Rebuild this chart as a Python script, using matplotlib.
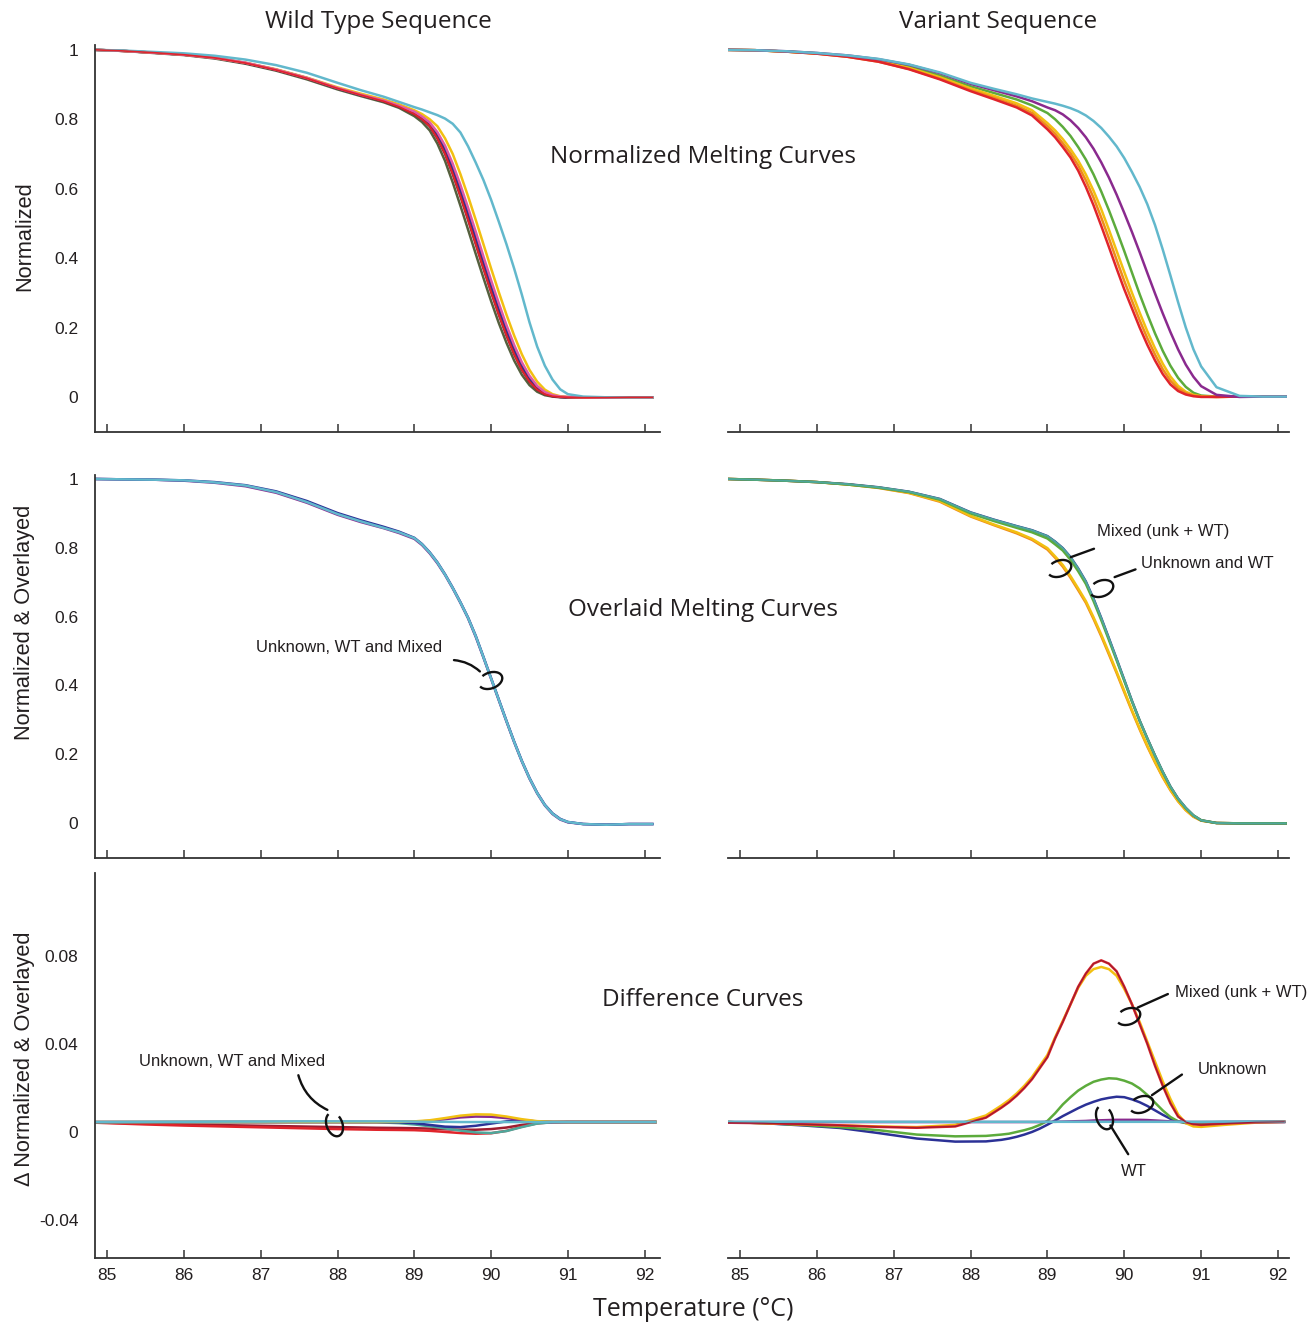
import matplotlib
matplotlib.use("Agg")
import matplotlib.pyplot as plt
from matplotlib.path import Path
from matplotlib.transforms import Affine2D

# temperature grid of the melting curves (deg C)
temp_melt = [84.85, 85.2, 85.6, 86.0, 86.4, 86.8, 87.2, 87.6, 88.0, 88.3, 88.6, 88.8,
             89.0, 89.1, 89.2, 89.3, 89.4, 89.5, 89.6, 89.7, 89.8, 89.9,
             90.0, 90.1, 90.2, 90.3, 90.4, 90.5, 90.6, 90.7, 90.8, 90.9, 91.0,
             91.2, 91.5, 91.8, 92.1]

# --- wild type, normalized
wt_olive = [1.000, 0.997, 0.991, 0.985, 0.975, 0.960, 0.940, 0.915, 0.886, 0.867, 0.849, 0.833,
            0.809, 0.792, 0.768, 0.730, 0.680, 0.618, 0.551, 0.482, 0.412, 0.343,
            0.276, 0.213, 0.156, 0.105, 0.064, 0.034, 0.015, 0.005, 0.001, -0.001, -0.002,
            -0.002, -0.002, -0.001, -0.001]
wt_red = [1.000, 0.997, 0.992, 0.986, 0.977, 0.962, 0.942, 0.918, 0.889, 0.870, 0.852, 0.836,
          0.815, 0.800, 0.780, 0.745, 0.700, 0.642, 0.578, 0.510, 0.440, 0.370,
          0.302, 0.237, 0.177, 0.123, 0.078, 0.044, 0.021, 0.008, 0.002, 0.000, -0.001,
          -0.002, -0.002, -0.001, -0.001]
wt_navy = [1.000, 0.997, 0.992, 0.986, 0.977, 0.962, 0.943, 0.919, 0.889, 0.870, 0.853, 0.837,
           0.818, 0.804, 0.786, 0.755, 0.713, 0.658, 0.595, 0.528, 0.458, 0.388,
           0.319, 0.253, 0.192, 0.136, 0.089, 0.052, 0.026, 0.011, 0.003, 0.000, -0.001,
           -0.002, -0.002, -0.001, -0.001]
wt_magenta = [1.000, 0.997, 0.992, 0.986, 0.977, 0.963, 0.943, 0.919, 0.890, 0.871, 0.854, 0.839,
              0.822, 0.808, 0.791, 0.763, 0.724, 0.672, 0.611, 0.545, 0.476, 0.405,
              0.336, 0.270, 0.207, 0.150, 0.100, 0.061, 0.032, 0.014, 0.005, 0.001, 0.000,
              -0.001, -0.002, -0.001, -0.001]
wt_yellow = [1.000, 0.997, 0.992, 0.986, 0.977, 0.963, 0.944, 0.920, 0.892, 0.874, 0.857, 0.843,
             0.826, 0.815, 0.800, 0.780, 0.745, 0.700, 0.642, 0.578, 0.510, 0.440,
             0.370, 0.302, 0.237, 0.177, 0.123, 0.078, 0.044, 0.021, 0.008, 0.002, 0.000,
             -0.001, -0.002, -0.001, -0.001]
wt_cyan = [1.000, 0.998, 0.994, 0.990, 0.983, 0.972, 0.956, 0.934, 0.905, 0.884, 0.865, 0.850,
           0.835, 0.828, 0.820, 0.812, 0.802, 0.787, 0.762, 0.722, 0.675, 0.625,
           0.568, 0.505, 0.440, 0.370, 0.295, 0.215, 0.145, 0.090, 0.050, 0.022, 0.008,
           0.001, -0.001, -0.001, -0.001]

# --- variant, normalized
var_red = [1.000, 0.999, 0.995, 0.989, 0.980, 0.966, 0.944, 0.915, 0.881, 0.858, 0.834, 0.811,
           0.771, 0.748, 0.720, 0.690, 0.652, 0.605, 0.552, 0.493, 0.432, 0.370,
           0.310, 0.255, 0.200, 0.150, 0.105, 0.066, 0.036, 0.017, 0.007, 0.002, 0.000,
           0.000, 0.001, 0.001, 0.001]
var_orange = [1.000, 0.999, 0.995, 0.989, 0.980, 0.966, 0.945, 0.917, 0.884, 0.862, 0.839, 0.818,
              0.780, 0.758, 0.731, 0.702, 0.667, 0.624, 0.574, 0.517, 0.457, 0.395,
              0.334, 0.277, 0.221, 0.169, 0.122, 0.080, 0.047, 0.024, 0.011, 0.004, 0.001,
              0.000, 0.001, 0.001, 0.001]
var_yellow = [1.000, 0.999, 0.995, 0.990, 0.981, 0.968, 0.948, 0.921, 0.889, 0.868, 0.846, 0.826,
              0.789, 0.768, 0.743, 0.714, 0.681, 0.641, 0.594, 0.541, 0.482, 0.421,
              0.360, 0.300, 0.243, 0.189, 0.140, 0.096, 0.059, 0.032, 0.015, 0.006, 0.002,
              0.000, 0.001, 0.001, 0.001]
var_green = [1.000, 0.999, 0.995, 0.990, 0.982, 0.970, 0.952, 0.926, 0.895, 0.876, 0.857, 0.840,
             0.818, 0.800, 0.778, 0.752, 0.720, 0.684, 0.641, 0.592, 0.538, 0.480,
             0.420, 0.358, 0.296, 0.238, 0.183, 0.133, 0.090, 0.055, 0.029, 0.012, 0.004,
             0.001, 0.001, 0.001, 0.001]
var_purple = [1.000, 0.999, 0.996, 0.991, 0.984, 0.973, 0.957, 0.933, 0.902, 0.884, 0.866, 0.852,
              0.834, 0.826, 0.814, 0.797, 0.775, 0.748, 0.715, 0.676, 0.632, 0.583,
              0.530, 0.475, 0.417, 0.357, 0.298, 0.241, 0.187, 0.137, 0.093, 0.058, 0.031,
              0.006, 0.000, 0.001, 0.001]
var_cyan = [1.000, 0.999, 0.996, 0.991, 0.984, 0.974, 0.958, 0.935, 0.905, 0.888, 0.872, 0.860,
            0.850, 0.845, 0.839, 0.832, 0.823, 0.811, 0.795, 0.775, 0.750, 0.722,
            0.688, 0.648, 0.605, 0.555, 0.495, 0.425, 0.350, 0.273, 0.200, 0.137, 0.088,
            0.028, 0.003, 0.001, 0.001]

# --- overlaid, wild type
ovl_wt_purple = [1.000, 0.999, 0.998, 0.995, 0.989, 0.979, 0.960, 0.931, 0.896, 0.875, 0.857, 0.843,
                 0.826, 0.808, 0.784, 0.755, 0.721, 0.682, 0.640, 0.595, 0.541, 0.481,
                 0.419, 0.357, 0.295, 0.235, 0.179, 0.129, 0.086, 0.051, 0.026, 0.010, 0.002,
                 -0.003, -0.005, -0.003, -0.003]
ovl_wt_navy = [1.000, 0.999, 0.998, 0.996, 0.991, 0.982, 0.964, 0.936, 0.901, 0.880, 0.861, 0.847,
               0.829, 0.811, 0.787, 0.758, 0.723, 0.684, 0.642, 0.597, 0.544, 0.483,
               0.421, 0.359, 0.297, 0.237, 0.181, 0.131, 0.088, 0.053, 0.028, 0.012, 0.003,
               -0.003, -0.005, -0.003, -0.003]
ovl_wt_cyan = [1.000, 0.999, 0.998, 0.996, 0.990, 0.981, 0.962, 0.933, 0.898, 0.877, 0.858, 0.845,
               0.828, 0.810, 0.786, 0.757, 0.722, 0.683, 0.641, 0.596, 0.543, 0.482,
               0.420, 0.358, 0.296, 0.236, 0.180, 0.130, 0.087, 0.052, 0.027, 0.011, 0.003,
               -0.003, -0.005, -0.003, -0.003]

# --- overlaid, variant
ovl_var_orange = [1.000, 0.998, 0.995, 0.991, 0.984, 0.974, 0.959, 0.934, 0.891, 0.866, 0.842, 0.823,
                  0.795, 0.771, 0.745, 0.713, 0.677, 0.640, 0.593, 0.543, 0.490, 0.436,
                  0.380, 0.325, 0.272, 0.222, 0.176, 0.133, 0.095, 0.063, 0.037, 0.018, 0.007,
                  0.000, -0.001, -0.001, -0.001]
ovl_var_yellow = [1.000, 0.998, 0.995, 0.991, 0.984, 0.975, 0.960, 0.936, 0.893, 0.868, 0.845, 0.826,
                  0.799, 0.775, 0.750, 0.718, 0.682, 0.645, 0.598, 0.548, 0.495, 0.440,
                  0.384, 0.328, 0.275, 0.225, 0.178, 0.135, 0.097, 0.064, 0.038, 0.019, 0.007,
                  0.000, -0.001, -0.001, -0.001]
ovl_var_green = [1.000, 0.998, 0.995, 0.991, 0.984, 0.975, 0.962, 0.940, 0.900, 0.878, 0.858, 0.845,
                 0.827, 0.810, 0.792, 0.765, 0.732, 0.695, 0.645, 0.590, 0.532, 0.473,
                 0.413, 0.353, 0.297, 0.245, 0.195, 0.148, 0.105, 0.070, 0.043, 0.022, 0.008,
                 0.000, -0.001, -0.001, -0.001]
ovl_var_teal = [1.000, 0.998, 0.995, 0.991, 0.985, 0.976, 0.963, 0.942, 0.903, 0.882, 0.863, 0.851,
                0.834, 0.818, 0.799, 0.773, 0.740, 0.702, 0.652, 0.596, 0.537, 0.477,
                0.416, 0.355, 0.298, 0.246, 0.196, 0.149, 0.106, 0.071, 0.044, 0.022, 0.008,
                0.000, -0.001, -0.001, -0.001]

# --- difference curves, wild type
temp_diff_wt = [84.84, 85.5, 86.0, 86.5, 87.0, 87.5, 88.0, 88.5, 88.8, 89.0, 89.2,
                89.4, 89.6, 89.8, 90.0, 90.2, 90.4, 90.6, 90.8, 91.0, 91.5, 92.14]
dwt_cyan = [0.0045, 0.0046, 0.0046, 0.0047, 0.0047, 0.0048, 0.0048, 0.0048, 0.0048, 0.0047, 0.0046,
            0.0046, 0.0045, 0.0045, 0.0045, 0.0045, 0.0045, 0.0045, 0.0045, 0.0045, 0.0045, 0.0045]
dwt_teal = [0.0044, 0.0044, 0.0045, 0.0045, 0.0045, 0.0045, 0.0045, 0.0044, 0.0040, 0.0034, 0.0026,
            0.0016, 0.0006, -0.0002, -0.0005, 0.0004, 0.0022, 0.0038, 0.0044, 0.0045, 0.0045, 0.0045]
dwt_red = [0.0042, 0.0034, 0.0029, 0.0025, 0.0021, 0.0017, 0.0013, 0.0010, 0.0009, 0.0008, 0.0005,
           0.0000, -0.0005, -0.0008, -0.0006, 0.0005, 0.0024, 0.0039, 0.0044, 0.0045, 0.0045, 0.0045]
dwt_darkred = [0.0043, 0.0038, 0.0034, 0.0031, 0.0028, 0.0025, 0.0022, 0.0019, 0.0018, 0.0017, 0.0015,
               0.0012, 0.0010, 0.0010, 0.0013, 0.0020, 0.0032, 0.0041, 0.0044, 0.0045, 0.0045, 0.0045]
dwt_yellow = [0.0045, 0.0045, 0.0045, 0.0045, 0.0045, 0.0045, 0.0045, 0.0045, 0.0046, 0.0048, 0.0053,
              0.0063, 0.0074, 0.0080, 0.0079, 0.0070, 0.0058, 0.0049, 0.0046, 0.0045, 0.0045, 0.0045]
dwt_purple = [0.0045, 0.0045, 0.0045, 0.0045, 0.0045, 0.0045, 0.0045, 0.0045, 0.0046, 0.0047, 0.0050,
              0.0058, 0.0066, 0.0070, 0.0069, 0.0063, 0.0054, 0.0047, 0.0045, 0.0045, 0.0045, 0.0045]
dwt_navy = [0.0045, 0.0045, 0.0045, 0.0045, 0.0045, 0.0045, 0.0045, 0.0045, 0.0044, 0.0040, 0.0032,
            0.0024, 0.0022, 0.0028, 0.0038, 0.0048, 0.0052, 0.0048, 0.0046, 0.0045, 0.0045, 0.0045]

# --- difference curves, variant
temp_diff_var = [84.84, 85.3, 85.8, 86.3, 86.8, 87.3, 87.8, 88.2,
                 88.4, 88.5, 88.6, 88.7, 88.8, 88.9, 89.0, 89.1, 89.2, 89.3, 89.4, 89.5,
                 89.6, 89.7, 89.8, 89.9, 90.0, 90.1, 90.2, 90.3, 90.4, 90.5, 90.6, 90.7,
                 90.8, 90.9, 91.0, 91.3, 91.7, 92.08]
dvar_red = [0.0042, 0.0040, 0.0035, 0.0030, 0.0023, 0.0019, 0.0025, 0.0065,
            0.0110, 0.0135, 0.0165, 0.0200, 0.0240, 0.0290, 0.0340, 0.0425, 0.0500, 0.0580, 0.0660, 0.0720,
            0.0765, 0.0780, 0.0765, 0.0730, 0.0660, 0.0580, 0.0490, 0.0400, 0.0300, 0.0210, 0.0130, 0.0070,
            0.0045, 0.0035, 0.0032, 0.0038, 0.0044, 0.0046]
dvar_yellow = [0.0045, 0.0040, 0.0035, 0.0030, 0.0025, 0.0022, 0.0032, 0.0075,
               0.0120, 0.0145, 0.0175, 0.0210, 0.0250, 0.0300, 0.0350, 0.0430, 0.0505, 0.0580, 0.0655, 0.0710,
               0.0740, 0.0750, 0.0740, 0.0710, 0.0650, 0.0580, 0.0500, 0.0410, 0.0320, 0.0230, 0.0150, 0.0080,
               0.0040, 0.0025, 0.0023, 0.0032, 0.0042, 0.0046]
dvar_green = [0.0045, 0.0040, 0.0032, 0.0022, 0.0008, -0.0012, -0.0020, -0.0018,
              -0.0012, -0.0008, 0.0000, 0.0008, 0.0018, 0.0032, 0.0050, 0.0085, 0.0125, 0.0158, 0.0188, 0.0210,
              0.0228, 0.0238, 0.0244, 0.0242, 0.0233, 0.0220, 0.0198, 0.0168, 0.0133, 0.0098, 0.0068, 0.0048,
              0.0040, 0.0038, 0.0040, 0.0043, 0.0045, 0.0046]
dvar_navy = [0.0045, 0.0040, 0.0030, 0.0018, -0.0005, -0.0030, -0.0044, -0.0043,
             -0.0036, -0.0030, -0.0022, -0.0012, 0.0000, 0.0015, 0.0033, 0.0052, 0.0072, 0.0090, 0.0108, 0.0124,
             0.0137, 0.0148, 0.0155, 0.0160, 0.0158, 0.0148, 0.0135, 0.0118, 0.0098, 0.0078, 0.0060, 0.0048,
             0.0043, 0.0042, 0.0043, 0.0045, 0.0046, 0.0046]
dvar_purple = [0.0045, 0.0045, 0.0045, 0.0045, 0.0045, 0.0045, 0.0045, 0.0045,
               0.0045, 0.0045, 0.0045, 0.0045, 0.0045, 0.0045, 0.0046, 0.0046, 0.0047, 0.0048, 0.0049, 0.0050,
               0.0052, 0.0053, 0.0054, 0.0055, 0.0055, 0.0055, 0.0055, 0.0054, 0.0052, 0.0050, 0.0048, 0.0046,
               0.0045, 0.0045, 0.0045, 0.0045, 0.0045, 0.0045]
dvar_cyan = [0.0046, 0.0046, 0.0047, 0.0047, 0.0046, 0.0046, 0.0046, 0.0046,
             0.0046, 0.0046, 0.0046, 0.0046, 0.0046, 0.0046, 0.0046, 0.0046, 0.0046, 0.0046, 0.0046, 0.0046,
             0.0046, 0.0046, 0.0046, 0.0046, 0.0046, 0.0046, 0.0046, 0.0046, 0.0046, 0.0046, 0.0046, 0.0046,
             0.0046, 0.0046, 0.0046, 0.0047, 0.0047, 0.0046]

x_ticks = [85, 86, 87, 88, 89, 90, 91, 92]
melt_ticks = [0, 0.2, 0.4, 0.6, 0.8, 1]
melt_labels = ["0", "0.2", "0.4", "0.6", "0.8", "1"]
diff_ticks = [-0.04, 0, 0.04, 0.08]
diff_labels = ["-0.04", "0", "0.04", "0.08"]

RED, DARKRED, ORANGE, YELLOW = "#e0242b", "#9c1c30", "#ef8a1c", "#f2c011"
GREEN, OLIVE, TEAL = "#5cab3c", "#55603e", "#4ea79b"
NAVY, PURPLE, MAGENTA, CYAN = "#2b3196", "#8a2a8e", "#e05aa5", "#62b8cc"
INK = "#231f20"
SANS = ["Liberation Sans", "DejaVu Sans"]
TITLE = ["Open Sans", "DejaVu Sans"]
plt.rcParams["font.family"] = SANS

W, H = 1313, 1330
fig = plt.figure(figsize=(W / 100, H / 100), dpi=100)


def box(x0, y0, x1, y1):
    return [x0 / W, 1 - y1 / H, (x1 - x0) / W, (y1 - y0) / H]


def style(ax, left_col, bottom_row, ylim, yticks=None, ylabels=None):
    ax.set_xlim((84.84, 92.2) if left_col else (84.844, 92.143))
    ax.set_ylim(ylim)
    ax.patch.set_alpha(0)
    for s in ("top", "right"):
        ax.spines[s].set_visible(False)
    ax.spines["left"].set_visible(left_col)
    for s in ("left", "bottom"):
        ax.spines[s].set_color("#333333")
        ax.spines[s].set_linewidth(1.3)
    ax.set_xticks(x_ticks)
    ax.tick_params(axis="x", direction="in", length=6, width=1.1, color="#333333",
                   labelbottom=bottom_row, pad=7, labelsize=12.5, labelcolor=INK)
    if left_col:
        ax.set_yticks(yticks, ylabels)
        ax.tick_params(axis="y", length=0, pad=12, labelsize=12.5, labelcolor=INK)
    else:
        ax.set_yticks([])


def curl_marker(angle):
    arc = Path.arc(15, 300)
    return Affine2D().scale(1.0, 0.65).rotate_deg(angle).transform_path(arc)


def callout(ax, text, text_xy, start, end, curl, ha="left", rad=0.0, angle=0):
    ax.text(*text_xy, text, ha=ha, va="center", fontsize=12, color=INK, family=SANS)
    ax.annotate("", xy=end, xytext=start,
                arrowprops=dict(arrowstyle="-", color="#111111", lw=1.7,
                                connectionstyle=f"arc3,rad={rad}"))
    ax.plot(*curl, marker=curl_marker(angle), ms=17, mfc="none", mec="#111111",
            mew=1.7, clip_on=False)


lw = 1.8

# normalized melting curves
ax = fig.add_axes(box(95, 45, 660, 432))
style(ax, True, False, (-0.101, 1.014), melt_ticks, melt_labels)
for vals, c in [(wt_olive, OLIVE), (wt_navy, NAVY), (wt_red, DARKRED), (wt_yellow, YELLOW),
                (wt_magenta, MAGENTA), (wt_cyan, CYAN)]:
    ax.plot(temp_melt, vals, color=c, lw=lw)
ax.plot(temp_melt, wt_red, color=RED, lw=1.2)

ax = fig.add_axes(box(728, 45, 1289, 432))
style(ax, False, False, (-0.101, 1.014))
for vals, c in [(var_green, GREEN), (var_yellow, YELLOW), (var_orange, ORANGE), (var_red, RED),
                (var_purple, PURPLE), (var_cyan, CYAN)]:
    ax.plot(temp_melt, vals, color=c, lw=lw)

# overlaid melting curves
ax = fig.add_axes(box(95, 475, 660, 858))
style(ax, True, False, (-0.1017, 1.0116), melt_ticks, melt_labels)
for vals, c in [(ovl_wt_purple, PURPLE), (ovl_wt_navy, NAVY), (ovl_wt_cyan, CYAN)]:
    ax.plot(temp_melt, vals, color=c, lw=lw)
callout(ax, "Unknown, WT and Mixed", (88.15, 0.511), (89.48, 0.474), (89.88, 0.435),
        (89.99, 0.416), ha="center", rad=-0.2, angle=200)

ax = fig.add_axes(box(728, 475, 1289, 858))
style(ax, False, False, (-0.1017, 1.0116))
for vals, c in [(ovl_var_orange, ORANGE), (ovl_var_yellow, YELLOW), (ovl_var_teal, NAVY),
                (ovl_var_green, GREEN)]:
    ax.plot(temp_melt, vals, color=c, lw=lw)
ax.plot(temp_melt, ovl_var_teal, color=TEAL, lw=1.4)
callout(ax, "Mixed (unk + WT)", (89.64, 0.847), (89.64, 0.800), (89.27, 0.770),
        (89.15, 0.741), rad=0.0, angle=200)
callout(ax, "Unknown and WT", (90.22, 0.754), (90.18, 0.740), (89.84, 0.712),
        (89.70, 0.683), rad=0.0, angle=200)

# difference curves
ax = fig.add_axes(box(95, 873, 660, 1258))
style(ax, True, True, (-0.0573, 0.1177), diff_ticks, diff_labels)
for vals, c in [(dwt_darkred, DARKRED), (dwt_red, RED), (dwt_teal, TEAL), (dwt_navy, NAVY),
                (dwt_purple, PURPLE), (dwt_yellow, YELLOW), (dwt_cyan, CYAN)]:
    ax.plot(temp_diff_wt, vals, color=c, lw=lw)
callout(ax, "Unknown, WT and Mixed", (86.62, 0.032), (87.48, 0.027), (87.90, 0.0095),
        (87.95, 0.0035), ha="center", rad=0.25, angle=110)

ax = fig.add_axes(box(728, 873, 1289, 1258))
style(ax, False, True, (-0.0573, 0.1177))
for vals, c in [(dvar_navy, NAVY), (dvar_green, GREEN), (dvar_yellow, YELLOW), (dvar_red, RED),
                (dvar_purple, PURPLE), (dvar_cyan, CYAN)]:
    ax.plot(temp_diff_var, vals, color=c, lw=lw)
ax.plot(temp_diff_var, dvar_red, color=DARKRED, lw=0.8)
callout(ax, "Mixed (unk + WT)", (90.66, 0.0636), (90.60, 0.0632), (90.14, 0.0560),
        (90.05, 0.0525), rad=0.0, angle=200)
callout(ax, "Unknown", (90.95, 0.0282), (90.78, 0.0268), (90.33, 0.0160),
        (90.22, 0.0128), rad=0.0, angle=200)
callout(ax, "WT", (90.13, -0.0180), (90.07, -0.0112), (89.80, 0.0040),
        (89.74, 0.0066), ha="center", rad=0.0, angle=110)

# headings and shared labels
for text, x, y in [("Wild Type Sequence", 378, 22), ("Variant Sequence", 998, 22),
                   ("Normalized Melting Curves", 703, 157), ("Overlaid Melting Curves", 703, 610),
                   ("Difference Curves", 703, 1000)]:
    fig.text(x / W, 1 - y / H, text, ha="center", va="center", fontsize=17.5,
             color=INK, family=TITLE)
fig.text(693 / W, 1 - 1310 / H, "Temperature (°C)", ha="center", va="center",
         fontsize=18, color=INK, family=TITLE)

for text, y in [("Normalized", 236), ("Normalized & Overlayed", 622),
                ("Δ Normalized & Overlayed", 1059)]:
    fig.text(25 / W, 1 - y / H, text, rotation=90, ha="center", va="center",
             fontsize=15.7, color=INK, family=SANS)

fig.savefig("out.png", dpi=100)
